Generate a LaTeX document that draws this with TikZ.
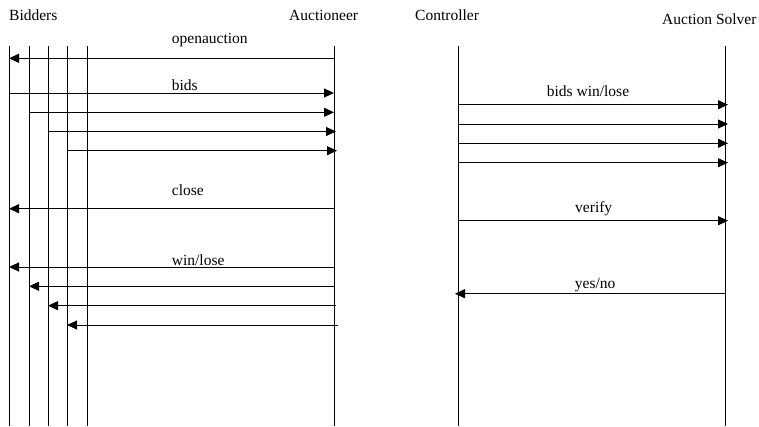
\documentclass[tikz,border=0pt]{standalone}
\usepackage{fontspec}
\setmainfont{Liberation Serif}
\usetikzlibrary{arrows.meta}
\begin{document}
\begin{tikzpicture}[x=1pt,y=-1pt,
  life/.style={line width=1pt},
  msg/.style={line width=1pt,-{Triangle[length=10pt,width=9pt]}},
  lbl/.style={anchor=base west,inner sep=0pt,font=\fontsize{15.5}{18}\selectfont},
  hdr/.style={anchor=base west,inner sep=0pt,font=\fontsize{15.5}{18}\selectfont}]
\useasboundingbox (0,0) rectangle (759,426);
% headers
\node[hdr] (hB) at (9,20.7) {Bidders};
\node[hdr] (hA) at (289,20.7) {Auctioneer};
\node[hdr] (hC) at (415,20) {Controller};
\node[hdr] (hS) at (662,24) {Auction Solver};
% lifelines
\foreach \n/\x in {b1/9,b2/29,b3/48,b4/67,b5/87,a/334,c/458,s/725}{
  \coordinate (\n t) at (\x,46);
  \coordinate (\n b) at (\x,426);
  \draw[life] (\n t) -- (\n b);
}
% left messages
\coordinate (m1s) at (334,58.3); \coordinate (m1e) at (9,58.3);
\draw[msg] (m1s) -- (m1e);
\node[lbl] (l1) at (171.7,43.3) {openauction};
\coordinate (m2s) at (9,93); \coordinate (m2e) at (334,93);
\draw[msg] (m2s) -- (m2e);
\node[lbl] (l2) at (171.7,90.5) {bids};
\coordinate (m3s) at (29,112.3); \coordinate (m3e) at (334,112.3);
\draw[msg] (m3s) -- (m3e);
\coordinate (m4s) at (48,131.5); \coordinate (m4e) at (336,131.5);
\draw[msg] (m4s) -- (m4e);
\coordinate (m5s) at (67,150.7); \coordinate (m5e) at (337,150.7);
\draw[msg] (m5s) -- (m5e);
\coordinate (m6s) at (334,208.7); \coordinate (m6e) at (9,208.7);
\draw[msg] (m6s) -- (m6e);
\node[lbl] (l6) at (171.7,195) {close};
\coordinate (m7s) at (334,267); \coordinate (m7e) at (9,267);
\draw[msg] (m7s) -- (m7e);
\node[lbl] (l7) at (171.7,265) {win/lose};
\coordinate (m8s) at (334,286.3); \coordinate (m8e) at (29,286.3);
\draw[msg] (m8s) -- (m8e);
\coordinate (m9s) at (336,305.7); \coordinate (m9e) at (48,305.7);
\draw[msg] (m9s) -- (m9e);
\coordinate (m10s) at (338,325); \coordinate (m10e) at (67,325);
\draw[msg] (m10s) -- (m10e);
% right messages
\coordinate (r1s) at (458,104.7); \coordinate (r1e) at (728,104.7);
\draw[msg] (r1s) -- (r1e);
\node[lbl] (rl1) at (546.7,96) {bids win/lose};
\coordinate (r2s) at (458,124); \coordinate (r2e) at (728,124);
\draw[msg] (r2s) -- (r2e);
\coordinate (r3s) at (458,143.3); \coordinate (r3e) at (728,143.3);
\draw[msg] (r3s) -- (r3e);
\coordinate (r4s) at (458,162.7); \coordinate (r4e) at (728,162.7);
\draw[msg] (r4s) -- (r4e);
\coordinate (r5s) at (458,220.7); \coordinate (r5e) at (728,220.7);
\draw[msg] (r5s) -- (r5e);
\node[lbl] (rl5) at (575,212.7) {verify};
\coordinate (r6s) at (725,293.7); \coordinate (r6e) at (455,293.7);
\draw[msg] (r6s) -- (r6e);
\node[lbl] (rl6) at (574.7,288) {yes/no};
\end{tikzpicture}
\end{document}
